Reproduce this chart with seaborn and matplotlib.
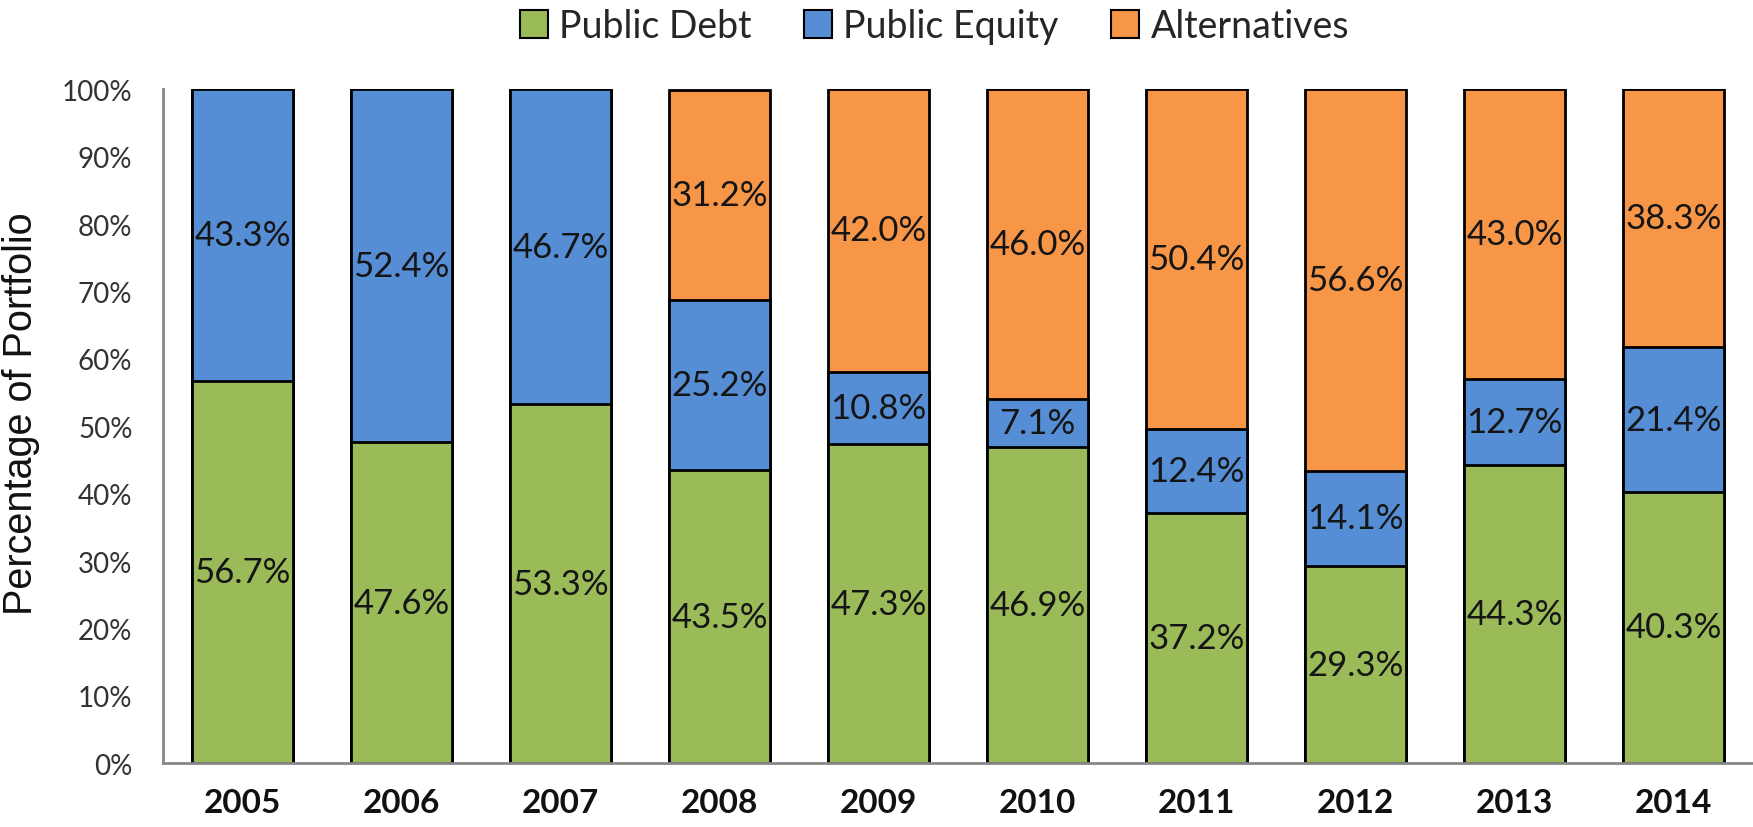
import matplotlib
matplotlib.use("Agg")
import matplotlib.pyplot as plt
from matplotlib.patches import Patch
import seaborn as sns
import pandas as pd
import numpy as np

years = ["2005", "2006", "2007", "2008", "2009", "2010", "2011", "2012", "2013", "2014"]
public_debt = [56.7, 47.6, 53.3, 43.5, 47.3, 46.9, 37.2, 29.3, 44.3, 40.3]
public_equity = [43.3, 52.4, 46.7, 25.2, 10.8, 7.1, 12.4, 14.1, 12.7, 21.4]
alternatives = [0.0, 0.0, 0.0, 31.2, 42.0, 46.0, 50.4, 56.6, 43.0, 38.3]

series_names = ["Public Debt", "Public Equity", "Alternatives"]
colors = ["#9BBB59", "#558ED5", "#F79646"]

sns.set_theme(style="white")
plt.rcParams["font.family"] = ["Lato", "DejaVu Sans"]

df = pd.DataFrame({"year": years, "debt": public_debt, "equity": public_equity, "alt": alternatives})
df["c1"] = df["debt"]
df["c2"] = df["debt"] + df["equity"]
df["c3"] = df["debt"] + df["equity"] + df["alt"]

fig = plt.figure(figsize=(17.53, 8.28), dpi=100)
ax = fig.add_axes([0.093, 0.077, 0.907, 0.814])

width = 0.635
for col, color in zip(["c3", "c2", "c1"], colors[::-1]):
    sns.barplot(data=df, x="year", y=col, color=color, width=width,
                edgecolor="black", linewidth=2, saturation=1, ax=ax, order=years)

# data labels centered in segments
for i in range(len(years)):
    bottom = 0.0
    for vals in [public_debt, public_equity, alternatives]:
        v = vals[i]
        if v > 0:
            ax.text(i, bottom + v / 2, f"{v:.1f}%", ha="center", va="center",
                    fontsize=25, color="#151515")
        bottom += v

ax.set_ylim(0, 100)
ax.set_xlim(-0.5, len(years) - 0.5)
ax.set_yticks(np.arange(0, 101, 10))
ax.set_yticklabels([f"{t}%" for t in range(0, 101, 10)], fontsize=20, color="#333333")
ax.set_xticks(range(len(years)))
ax.set_xticklabels(years, fontsize=24, fontweight="bold", color="#111111")
ax.tick_params(axis="x", length=0, pad=18)
ax.tick_params(axis="y", length=0, pad=22)
ax.set_xlabel("")
ax.set_ylabel("")
fig.text(0.012, 0.5, "Percentage of Portfolio", rotation=90, ha="center", va="center",
         fontsize=28.5, family=["Liberation Sans", "DejaVu Sans"], color="#111111")

for s in ["top", "right"]:
    ax.spines[s].set_visible(False)
for s in ["left", "bottom"]:
    ax.spines[s].set_visible(True)
    ax.spines[s].set_color("#888888")
    ax.spines[s].set_linewidth(2)

handles = [Patch(facecolor=c, edgecolor="black", linewidth=1.5, label=n) for c, n in zip(colors, series_names)]
fig.legend(handles=handles, loc="upper center", bbox_to_anchor=(0.533, 1.03), ncol=3, frameon=False,
           fontsize=27, handlelength=0.75, handleheight=0.75, handletextpad=0.3, columnspacing=1.4)

fig.savefig("out.png", dpi=100)
